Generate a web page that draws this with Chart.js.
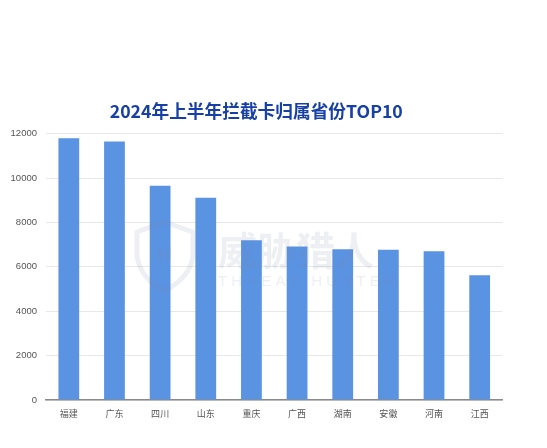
<!DOCTYPE html>
<html><head><meta charset="utf-8">
<style>html,body{margin:0;padding:0;background:#fff}#w{width:547px;height:448px;position:relative}</style>
<script src="https://cdn.jsdelivr.net/npm/chart.js@4"></script>
</head><body><div id="w"><canvas id="c"></canvas></div>
<script>
const categories = ['福建','广东','四川','山东','重庆','广西','湖南','安徽','河南','江西'];
const values = [11790,11650,9650,9110,7200,6915,6790,6770,6700,5620];
const titleText = '2024年上半年拦截卡归属省份TOP10';
const FONT = '"Noto Sans CJK SC","Noto Sans",sans-serif';

const watermark = {
  id:'watermark',
  afterDatasetsDraw(chart){
    const c = chart.ctx; c.save();
    c.strokeStyle='rgba(120,135,160,0.13)'; c.lineWidth=5; c.lineJoin='round';
    c.beginPath();
    c.moveTo(164,222); c.lineTo(137,232); c.lineTo(137,256);
    c.quadraticCurveTo(140,278,164,291);
    c.quadraticCurveTo(190,278,193,256);
    c.lineTo(193,232); c.closePath(); c.stroke();
    c.fillStyle='rgba(120,135,160,0.13)';
    c.textBaseline='middle'; c.textAlign='left';
    c.font='bold 20px "DejaVu Sans",sans-serif';
    c.fillText('H',156,256);
    c.font='bold 39px '+FONT;
    c.fillText('威胁猎人',218,250);
    c.font='15px "Liberation Sans",sans-serif';
    c.fillText('T H R E A T   H U N T E R',218,282);
    c.restore();
  }
};

new Chart(document.getElementById('c'),{
  type:'bar',
  data:{labels:categories,datasets:[{data:values,backgroundColor:'#5b93e3',categoryPercentage:1,barPercentage:0.455}]},
  plugins:[watermark],
  options:{
    responsive:true,maintainAspectRatio:false,animation:false,
    layout:{padding:{left:10,right:44.5,top:0,bottom:18}},
    plugins:{
      legend:{display:false},tooltip:{enabled:false},
      title:{display:true,text:titleText,color:'#1740a6',
        font:{family:FONT,size:17.7,weight:'bold',lineHeight:1.2},
        padding:{top:101,bottom:11.4}}
    },
    scales:{
      x:{
        afterFit(s){s.height=30;},
        grid:{display:false,drawTicks:false},
        border:{display:true,color:'#8a8a8a',width:1.5},
        ticks:{color:'#555',font:{family:FONT,size:9},padding:8,maxRotation:0}
      },
      y:{
        min:0,max:12000,
        afterFit(s){s.width=36;},
        grid:{color:'#e8e8e8',lineWidth:1,drawTicks:false},
        border:{display:false},
        ticks:{stepSize:2000,color:'#555',font:{family:'"Liberation Sans",sans-serif',size:9.5},padding:9,
          callback:v=>String(v)}
      }
    }
  }
});
</script></body></html>
